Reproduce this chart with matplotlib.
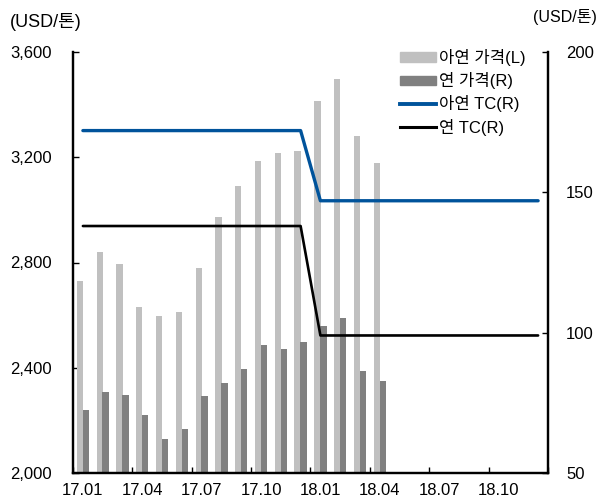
import numpy as np
import matplotlib
matplotlib.use("Agg")
import matplotlib.pyplot as plt
from matplotlib.patches import Patch
from matplotlib.lines import Line2D

plt.rcParams['font.family'] = ['Liberation Sans', 'Noto Sans CJK KR']

# Months from 17.01 to 18.12
months = [f"{y}.{m:02d}" for y in (17, 18) for m in range(1, 13)]
tick_labels = ["17.01", "17.04", "17.07", "17.10", "18.01", "18.04", "18.07", "18.10"]

# Monthly prices (USD/톤), available through 18.04
zinc_price = [2731, 2841, 2793, 2630, 2598, 2611, 2778, 2974, 3089, 3187, 3215, 3225,
              3412, 3497, 3281, 3177]
lead_price = [2238, 2308, 2298, 2219, 2128, 2166, 2292, 2342, 2397, 2488, 2473, 2498,
              2560, 2589, 2388, 2351]

# Annual benchmark treatment charges (USD/톤)
zinc_tc = [172] * 12 + [147] * 12
lead_tc = [138] * 12 + [99] * 12

fig = plt.figure(figsize=(5.98, 4.99), dpi=100)
ax = fig.add_axes([73 / 598, 1 - 473 / 499, 475 / 598, 421 / 499])
ax2 = ax.twinx()

x = np.arange(len(months))
xp = np.arange(len(zinc_price))
w = 0.32
ax.bar(xp - 0.15, zinc_price, width=w, color="#c0c0c0", zorder=2)
ax.bar(xp + 0.15, lead_price, width=w, color="#808080", zorder=2)

ax2.plot(x, zinc_tc, color="#00539b", lw=2.4, solid_capstyle="round")
ax2.plot(x, lead_tc, color="black", lw=1.9, solid_capstyle="round")

ax.set_xlim(-0.5, len(months) - 0.5)
ax.set_ylim(2000, 3600)
ax.set_yticks([2000, 2400, 2800, 3200, 3600])
ax.set_yticklabels([f"{v:,}" for v in [2000, 2400, 2800, 3200, 3600]])
ax2.set_ylim(50, 200)
ax2.set_yticks([50, 100, 150, 200])

# Tick marks sit on quarter boundaries, labels centred on the month
ax.set_xticks(np.arange(-0.5, len(months), 3))
ax.set_xticklabels([])
ax.set_xticks(np.arange(0, len(months), 3), minor=True)
ax.set_xticklabels(tick_labels, minor=True)
ax.tick_params(axis="x", which="minor", length=0, pad=7, labelsize=12)
ax.tick_params(axis="x", which="major", direction="in", length=4, width=1)
ax.tick_params(axis="y", direction="in", length=4, width=1, pad=15, labelsize=12)
ax2.tick_params(axis="y", direction="in", length=4, width=1, pad=13, labelsize=12)

for a in (ax, ax2):
    a.spines["top"].set_visible(False)
    for s in ("left", "right", "bottom"):
        a.spines[s].set_linewidth(1.6)

fig.text(10 / 598, 1 - 22 / 499, "(USD/톤)", fontsize=13, va="center", ha="left")
fig.text(597 / 598, 1 - 17 / 499, "(USD/톤)", fontsize=11.5, va="center", ha="right")

handles = [
    Patch(color="#c0c0c0"),
    Patch(color="#808080"),
    Line2D([], [], color="#00539b", lw=2.8),
    Line2D([], [], color="black", lw=2.2),
]
labels = ["아연 가격(L)", "연 가격(R)", "아연 TC(R)", "연 TC(R)"]
ax2.legend(handles, labels, loc="upper left", bbox_to_anchor=(400 / 598, 1 - 49 / 499),
           bbox_transform=fig.transFigure, frameon=False, borderaxespad=0, borderpad=0,
           fontsize=12, handlelength=2.15, handletextpad=0.2, labelspacing=0.37,
           handleheight=0.5)

fig.savefig("out.png", dpi=100)
